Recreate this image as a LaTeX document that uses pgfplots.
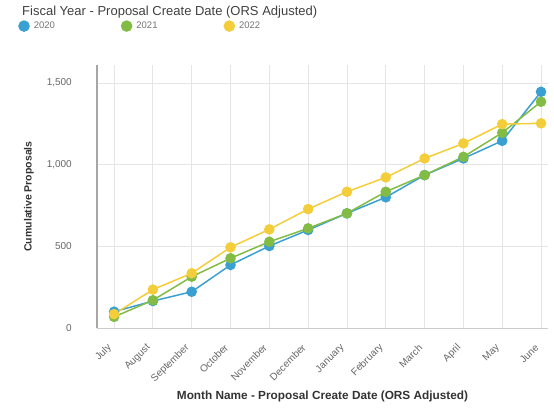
\documentclass[border=0pt]{standalone}
\usepackage{pgfplots}
\pgfplotsset{compat=1.18}
\usepackage{fontspec}
\setmainfont{Liberation Sans}

\definecolor{c20}{HTML}{3AA0D2}
\definecolor{c21}{HTML}{82BC45}
\definecolor{c22}{HTML}{F3CD3A}
\definecolor{tick}{HTML}{666666}
\definecolor{lab}{HTML}{333333}

\begin{document}
\begin{tikzpicture}[x=1bp,y=1bp]
\useasboundingbox (0,0) rectangle (554,411);
\begin{axis}[
    at={(97bp,83bp)}, anchor=south west,
    scale only axis, width=451bp, height=263bp,
    xmin=-0.44, xmax=11.18,
    ymin=0, ymax=1610,
    axis x line*=bottom, axis y line*=left,
    x axis line style={draw=black!20, line width=1bp},
    y axis line style={draw=black!35, line width=1.2bp},
    major tick length=0pt,
    xmajorgrids, ymajorgrids,
    major grid style={draw=black!10, line width=0.8bp},
    xtick={0,...,11},
    xticklabels={July,August,September,October,November,December,January,February,March,April,May,June},
    ytick={0,500,1000,1500},
    /pgf/number format/assume math mode=true,
    /pgf/number format/1000 sep={,},
    tick label style={font=\fontsize{10bp}{12bp}\selectfont, text=tick},
    yticklabel style={inner sep=0pt, xshift=-25bp},
    xticklabel style={xshift=-4bp, yshift=-18bp, rotate=45, anchor=east, inner sep=0pt},
    every axis x label/.style={at={(axis description cs:0.5,0)}, anchor=base, yshift=-71bp,
        font=\fontsize{11.8bp}{13bp}\selectfont\bfseries, text=lab},
    every axis y label/.style={at={(axis description cs:0,0.5)}, xshift=-68bp, rotate=90, anchor=center,
        font=\fontsize{10.5bp}{12bp}\selectfont\bfseries, text=lab},
    xlabel={Month Name - Proposal Create Date (ORS Adjusted)},
    ylabel={Cumulative Proposals},
    legend columns=3,
    legend style={at={(axis description cs:-0.175,1.148)}, anchor=west,
        draw=none, fill=none, inner sep=0pt,
        font=\fontsize{9.5bp}{11bp}\selectfont, text=black!55,
        nodes={inner sep=0pt},
        /tikz/every odd column/.append style={column sep=4bp},
        /tikz/every even column/.append style={column sep=66bp}},
    legend image code/.code={\fill[#1] (5bp,0bp) circle (5bp);},
    every axis plot/.append style={line width=1.5bp, mark=*, mark size=4.5bp},
    clip=false,
]
\addplot[color=c20, mark options={fill=c20, draw=c20}] coordinates {
 (0,100) (1,165) (2,222) (3,386) (4,502) (5,600) (6,702) (7,800) (8,936) (9,1038) (10,1146) (11,1446)
};
\addlegendentry{2020}
\addplot[color=c21, mark options={fill=c21, draw=c21}] coordinates {
 (0,68) (1,170) (2,314) (3,427) (4,528) (5,610) (6,702) (7,834) (8,936) (9,1048) (10,1195) (11,1385)
};
\addlegendentry{2021}
\addplot[color=c22, mark options={fill=c22, draw=c22}] coordinates {
 (0,85) (1,235) (2,335) (3,494) (4,604) (5,728) (6,834) (7,922) (8,1038) (9,1130) (10,1248) (11,1253)
};
\addlegendentry{2022}
\node[anchor=west, inner sep=0pt, text=black!75, font=\fontsize{13bp}{15bp}\selectfont]
  at (axis description cs:-0.1663,1.2015) {Fiscal Year - Proposal Create Date (ORS Adjusted)};
\end{axis}
\end{tikzpicture}
\end{document}
